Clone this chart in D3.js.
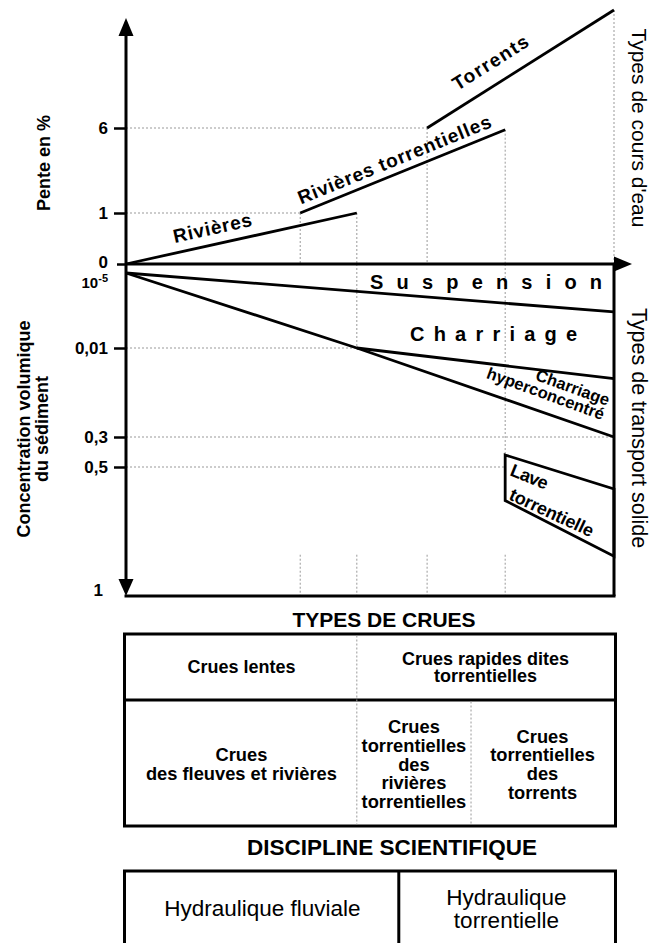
<!DOCTYPE html>
<html>
<head>
<meta charset="utf-8">
<script src="https://cdn.jsdelivr.net/npm/d3@7"></script>
<style>
  body { margin: 0; background: #fff; }
  svg text { font-family: "Liberation Sans", Arial, Helvetica, sans-serif; fill: #000; }
</style>
</head>
<body>
<div id="chart"></div>
<script>
// ---- Types de cours d'eau (position along the x axis 0-100, pente en %)
const slopeTicks = [0, 1, 6];
const slopeLabels = ["0", "1", "6"];
const courseNames = ["Rivières", "Rivières torrentielles", "Torrents"];
const courseFrom = [[0, 0], [35.7, 1], [61.7, 6]];
const courseTo = [[47.3, 1], [77.7, 5.9], [100, 15]];

// ---- Types de transport solide (concentration volumique)
const concTicks = [1e-5, 0.01, 0.3, 0.5, 1];
const concLabels = ["10-5", "0,01", "0,3", "0,5", "1"];
const concGridTicks = [0.01, 0.3, 0.5];
const concGridEnd = [47.3, 100, 77.7];
const suspensionLimit = [[0, 1e-5], [100, 0.0052]];
const charriageLimit = [[0, 1e-5], [47.3, 0.01], [100, 0.3]];
const hyperLimit = [[47.3, 0.01], [100, 0.11]];
const laveBox = [[77.7, 0.42], [100, 0.585], [100, 0.846], [77.7, 0.63]];
const stubX = [35.7, 47.3, 61.7, 77.7];
const stubRange = [0.84, 1];

// ---- tables
const crueHeaders = ["Crues lentes", "Crues rapides dites\ntorrentielles"];
const crueHeaderCols = [0, 47.3, 100];
const crueTypes = ["Crues\ndes fleuves et rivières",
  "Crues\ntorrentielles\ndes\nrivières\ntorrentielles",
  "Crues\ntorrentielles\ndes\ntorrents"];
const crueTypeCols = [0, 47.3, 70.7, 100];
const disciplines = ["Hydraulique fluviale", "Hydraulique\ntorrentielle"];
const disciplineCols = [0, 55.9, 100];

// ---- layout
const W = 650, H = 943;
const axisTop = 18, arrowRight = 632;

const svg = d3.select("#chart").append("svg")
    .attr("width", W)
    .attr("height", H);

const x = d3.scaleLinear().domain([0, 100]).range([126, 614]);
const ySlope = d3.scaleLinear().domain([0, 1, 6, 15]).range([264, 213, 128, 10]);
const yConc = d3.scaleLinear().domain(concTicks).range([273, 348, 437, 467, 596]);
const zeroY = ySlope(0);

function label(g, lines, o) {
  const t = g.append("text")
      .attr("transform", `translate(${o.x},${o.y}) rotate(${o.rotate || 0})`)
      .attr("text-anchor", o.anchor || "middle")
      .style("font-size", o.size + "px")
      .style("font-weight", o.weight || "bold");
  if (o.ls) t.style("letter-spacing", o.ls + "px");
  lines.forEach((s, i) => {
    const ts = t.append("tspan").attr("x", 0).attr("y", (o.dy || 0) + i * (o.lh || 0)).text(s);
    if (o.len) ts.attr("textLength", o.len[i]).attr("lengthAdjust", "spacing");
  });
  return t;
}

function dotted(x1, y1, x2, y2) {
  svg.append("line")
      .attr("x1", x1).attr("y1", y1).attr("x2", x2).attr("y2", y2)
      .attr("stroke", "#999").attr("stroke-width", 1).attr("stroke-dasharray", "2,2");
}

// dotted guides, upper part
courseFrom.slice(1).forEach(p => dotted(x(0), ySlope(p[1]), x(p[0]), ySlope(p[1])));
courseFrom.slice(1).concat(courseTo).forEach(p => dotted(x(p[0]), ySlope(p[1]), x(p[0]), zeroY));

// dotted guides, lower part
concGridTicks.forEach((c, i) => dotted(x(0), yConc(c), x(concGridEnd[i]), yConc(c)));
dotted(x(charriageLimit[1][0]), zeroY, x(charriageLimit[1][0]), yConc(charriageLimit[1][1]));
dotted(x(laveBox[0][0]), zeroY, x(laveBox[0][0]), yConc(laveBox[0][1]));
stubX.forEach(v => dotted(x(v), yConc(stubRange[0]), x(v), yConc(stubRange[1])));

// axes
const yAxisTop = d3.axisLeft(ySlope).tickValues(slopeTicks).tickSize(12).tickPadding(6)
    .tickFormat((d, i) => slopeLabels[i]);
const gTop = svg.append("g").attr("transform", `translate(${x(0)},0)`).call(yAxisTop);

const yAxisLow = d3.axisLeft(yConc).tickValues(concTicks).tickSize(12).tickPadding(6)
    .tickFormat((d, i) => concLabels[i]);
const gLow = svg.append("g").attr("transform", `translate(${x(0)},0)`).call(yAxisLow);

[gTop, gLow].forEach(g => {
  g.select(".domain").remove();
  g.selectAll(".tick line").attr("stroke", "#000").attr("stroke-width", 2.5);
  g.selectAll(".tick text").attr("fill", "#000")
      .style("font-size", "17px").style("font-weight", "bold")
      .style("font-family", "'Liberation Sans', Arial, sans-serif");
});
gTop.selectAll(".tick").filter(d => d === 0).select("line").attr("x2", -9);
gTop.selectAll(".tick").filter(d => d === 0).select("text").attr("y", -2);
gLow.selectAll(".tick").filter(d => d === 1e-5 || d === 1).select("line").remove();
gLow.selectAll(".tick").filter(d => d === 1e-5).select("text")
    .attr("y", 9).text(null)
    .call(t => {
      t.append("tspan").style("font-size", "15px").text("10");
      t.append("tspan").style("font-size", "11px").attr("dy", -6).text("-5");
    });
gLow.selectAll(".tick").filter(d => d === 1).select("text").attr("x", -23).attr("y", -6);

// thick axis lines and frame
const ax = svg.append("g").attr("stroke", "#000").attr("stroke-width", 3);
ax.append("line").attr("x1", x(0)).attr("x2", x(0)).attr("y1", axisTop + 16).attr("y2", yConc(1) - 16);
ax.append("line").attr("x1", x(0)).attr("x2", arrowRight - 16).attr("y1", zeroY).attr("y2", zeroY);
ax.append("line").attr("x1", x(0) - 1.5).attr("x2", x(100) + 1.5).attr("y1", yConc(1)).attr("y2", yConc(1));
ax.append("line").attr("x1", x(100)).attr("x2", x(100)).attr("y1", zeroY).attr("y2", yConc(1));

const arrows = svg.append("g").attr("fill", "#000");
arrows.append("path").attr("d", `M${x(0)},${axisTop} l-7.5,18 h15 z`);
arrows.append("path").attr("d", `M${x(0)},${yConc(1)} l-7.5,-17 h15 z`);
arrows.append("path").attr("d", `M${arrowRight},${zeroY} l-18,-7.5 v15 z`);

// stream type segments
const lineSlope = d3.line().x(d => x(d[0])).y(d => ySlope(d[1]));
courseFrom.forEach((p, i) => {
  svg.append("path").attr("d", lineSlope([p, courseTo[i]]))
      .attr("fill", "none").attr("stroke", "#000").attr("stroke-width", 2.8);
});

const courseLabelPos = [[0.39, -10, 80], [0.485, -7.5, 207], [0.40, -15, 86]];
courseNames.forEach((name, i) => {
  const a = [x(courseFrom[i][0]), ySlope(courseFrom[i][1])];
  const b = [x(courseTo[i][0]), ySlope(courseTo[i][1])];
  const ang = Math.atan2(b[1] - a[1], b[0] - a[0]) * 180 / Math.PI;
  const [t, off, len] = courseLabelPos[i];
  label(svg, [name], {
    x: a[0] + t * (b[0] - a[0]), y: a[1] + t * (b[1] - a[1]),
    rotate: ang, dy: off, size: 19, len: [len]
  });
});

// transport boundaries
const lineConc = d3.line().x(d => x(d[0])).y(d => yConc(d[1]));
[suspensionLimit, charriageLimit, hyperLimit].forEach(pts => {
  svg.append("path").attr("d", lineConc(pts))
      .attr("fill", "none").attr("stroke", "#000").attr("stroke-width", 2.8)
      .attr("stroke-linejoin", "round");
});
svg.append("path").attr("d", lineConc(laveBox) + "Z")
    .attr("fill", "none").attr("stroke", "#000").attr("stroke-width", 2.8);

// transport labels
label(svg, ["Suspension"], {x: 370, y: 289, anchor: "start", size: 20, len: [232]});
label(svg, ["Charriage"], {x: 410, y: 341, anchor: "start", size: 20, len: [167]});
label(svg, ["Charriage", "hyperconcentré"], {x: 607, y: 406, rotate: 20, anchor: "end", size: 16.5, lh: 15});
label(svg, ["Lave"], {x: 509, y: 475, rotate: 22, anchor: "start", size: 18, ls: -0.6});
label(svg, ["torrentielle"], {x: 508, y: 499, rotate: 25, anchor: "start", size: 18, ls: -0.2});

// axis titles
label(svg, ["Pente en %"], {x: 50, y: 163, rotate: -90, size: 18});
label(svg, ["Concentration volumique", "du sédiment"], {x: 30, y: 429, rotate: -90, size: 18, lh: 18});
label(svg, ["Types de cours d'eau"], {x: 632, y: 128, rotate: 90, size: 21, weight: "normal"});
label(svg, ["Types de transport solide"], {x: 632, y: 428, rotate: 90, size: 21.5, weight: "normal"});

// ---- table: types de crues
label(svg, ["TYPES DE CRUES"], {x: 384, y: 627, size: 21});
const tb = svg.append("g").attr("fill", "none").attr("stroke", "#000").attr("stroke-width", 3);
const t1 = {top: 634, mid: 700, bottom: 826};
tb.append("rect").attr("x", x(0) - 1.5).attr("y", t1.top)
    .attr("width", x(100) - x(0) + 3).attr("height", t1.bottom - t1.top);
tb.append("line").attr("x1", x(0)).attr("x2", x(100)).attr("y1", t1.mid).attr("y2", t1.mid);
dotted(x(crueHeaderCols[1]), t1.top + 1.5, x(crueHeaderCols[1]), t1.bottom - 1.5);
dotted(x(crueTypeCols[2]), t1.mid + 1.5, x(crueTypeCols[2]), t1.bottom - 1.5);

function cells(texts, cols, cy, size, lh, weight) {
  texts.forEach((s, i) => {
    const lines = s.split("\n");
    label(svg, lines, {
      x: (x(cols[i]) + x(cols[i + 1])) / 2,
      y: cy - (lines.length - 1) * lh / 2 + size * 0.36,
      size: size, lh: lh, weight: weight
    });
  });
}
cells(crueHeaders, crueHeaderCols, 667, 18, 17.5, "bold");
cells(crueTypes, crueTypeCols, 764, 18.3, 18.7, "bold");

// ---- table: discipline scientifique
label(svg, ["DISCIPLINE SCIENTIFIQUE"], {x: 392, y: 855, size: 22.5});
const t2 = {top: 871, bottom: 960};
tb.append("rect").attr("x", x(0) - 1.5).attr("y", t2.top)
    .attr("width", x(100) - x(0) + 3).attr("height", t2.bottom - t2.top);
tb.append("line").attr("x1", x(disciplineCols[1])).attr("x2", x(disciplineCols[1]))
    .attr("y1", t2.top).attr("y2", t2.bottom);
cells(disciplines, disciplineCols, 908, 22.5, 23, "normal");
</script>
</body>
</html>
